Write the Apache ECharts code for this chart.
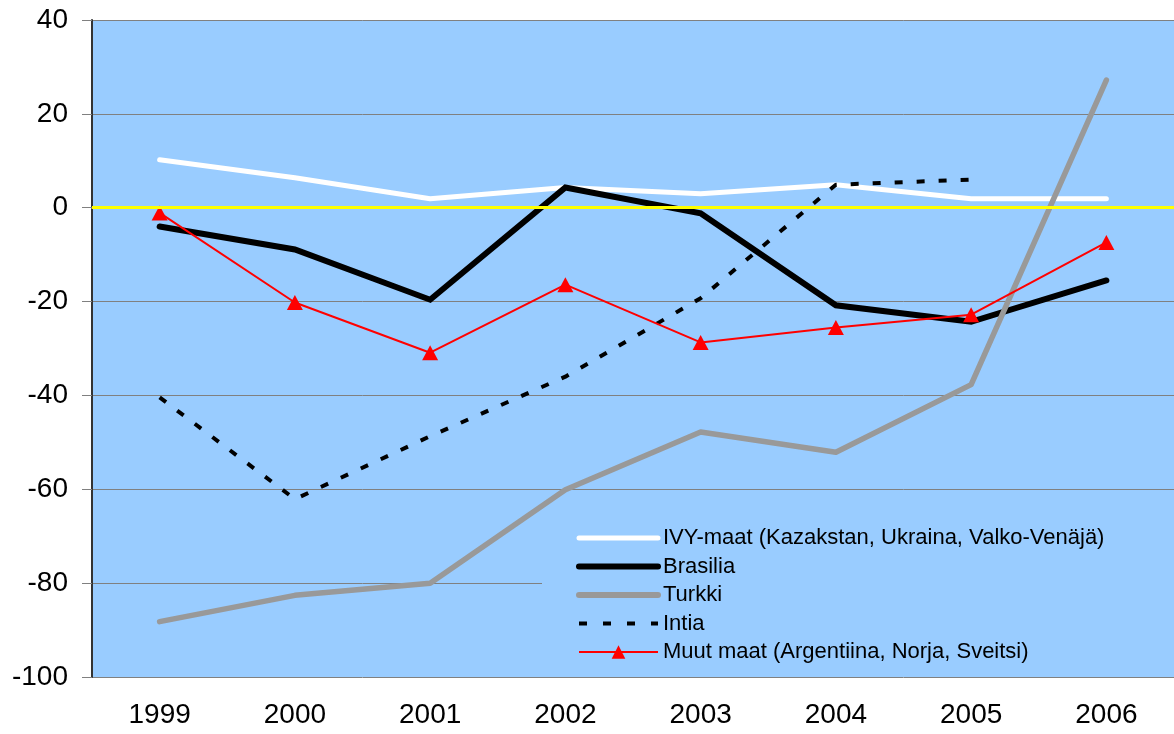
<!DOCTYPE html>
<html>
<head>
<meta charset="utf-8">
<script src="https://cdn.jsdelivr.net/npm/echarts@6/dist/echarts.min.js"></script>
<style>
  html, body { margin: 0; padding: 0; background: #fff; }
  #chart { width: 1174px; height: 734px; }
</style>
</head>
<body>
<div id="chart"></div>
<script>
// vuodet
const years = ['1999', '2000', '2001', '2002', '2003', '2004', '2005', '2006'];

// sarjat
const ivyMaat = [10.2, 6.4, 1.9, 4.3, 3.0, 4.9, 1.9, 1.9];
const brasilia = [-4.0, -8.9, -19.6, 4.3, -1.2, -20.8, -24.3, -15.5];
const turkki = [-88.2, -82.6, -80.0, -60.1, -47.8, -52.1, -37.7, 27.2];
const intia = [-40.4, -62.1, -48.7, -36.0, -19.3, 4.9, 6.0, null];
const muutMaat = [-1.1, -20.2, -30.9, -16.4, -28.7, -25.5, -22.8, -7.4];

const seriesNames = [
    'IVY-maat (Kazakstan, Ukraina, Valko-Venäjä)',
    'Brasilia',
    'Turkki',
    'Intia',
    'Muut maat (Argentiina, Norja, Sveitsi)'
];

const FONT = '"Liberation Sans", Arial, sans-serif';

const chart = echarts.init(document.getElementById('chart'));
chart.setOption({
    animation: false,
    grid: {
        left: 92, right: 0, top: 20, bottom: 57,
        show: true, backgroundColor: '#99CCFF', borderWidth: 0,
        outerBoundsMode: 'none'
    },
    xAxis: {
        type: 'category',
        data: years,
        boundaryGap: true,
        axisLine: { lineStyle: { color: '#808080', width: 2 } },
        axisTick: { show: false },
        axisLabel: { color: '#000', fontSize: 28, fontFamily: FONT, margin: 24 },
        splitLine: { show: false }
    },
    yAxis: {
        type: 'value',
        min: -100, max: 40, interval: 20,
        axisLine: { show: true, lineStyle: { color: '#333', width: 2 } },
        axisTick: { show: true, length: 10, lineStyle: { color: '#808080', width: 1 } },
        axisLabel: { color: '#000', fontSize: 28, fontFamily: FONT, margin: 24 },
        splitLine: { show: true, lineStyle: { color: '#808080', width: 1 } }
    },
    legend: {
        orient: 'vertical',
        left: 542, top: 509,
        padding: [18, 140, 13, 34],
        backgroundColor: '#99CCFF',
        itemWidth: 79, itemHeight: 17, itemGap: 6.5,
        selectedMode: false,
        itemStyle: { opacity: 0 },
        textStyle: { color: '#000', fontSize: 22, fontFamily: FONT, lineHeight: 22 },
        data: [
            { name: seriesNames[0], lineStyle: { width: 5, cap: 'round' } },
            { name: seriesNames[1], lineStyle: { width: 6, cap: 'round' } },
            { name: seriesNames[2], lineStyle: { width: 6, cap: 'round' } },
            { name: seriesNames[3], lineStyle: { width: 4, type: [8, 16] } },
            { name: seriesNames[4], lineStyle: { width: 2 }, itemStyle: { opacity: 1 } }
        ]
    },
    series: [
        {
            name: seriesNames[0], type: 'line', data: ivyMaat,
            symbol: 'none',
            lineStyle: { color: '#FFFFFF', width: 5, cap: 'round', join: 'round' },
            itemStyle: { color: '#FFFFFF' },
            markLine: {
                silent: true, symbol: 'none', label: { show: false },
                lineStyle: { color: '#FFFF00', width: 3, type: 'solid' },
                data: [{ yAxis: 0 }]
            }
        },
        {
            name: seriesNames[1], type: 'line', data: brasilia,
            symbol: 'none',
            lineStyle: { color: '#000000', width: 6, cap: 'round', join: 'miter' },
            itemStyle: { color: '#000000' }
        },
        {
            name: seriesNames[2], type: 'line', data: turkki,
            symbol: 'none',
            lineStyle: { color: '#999999', width: 5.5, cap: 'round', join: 'round' },
            itemStyle: { color: '#999999' }
        },
        {
            name: seriesNames[3], type: 'line', data: intia,
            symbol: 'none',
            lineStyle: { color: '#000000', width: 4, type: [8, 14], cap: 'butt' },
            itemStyle: { color: '#000000' }
        },
        {
            name: seriesNames[4], type: 'line', data: muutMaat,
            symbol: 'triangle', symbolSize: [16, 15], showAllSymbol: true,
            lineStyle: { color: '#FF0000', width: 2 },
            itemStyle: { color: '#FF0000' }
        }
    ]
});
window.addEventListener('resize', () => chart.resize());
</script>
</body>
</html>
